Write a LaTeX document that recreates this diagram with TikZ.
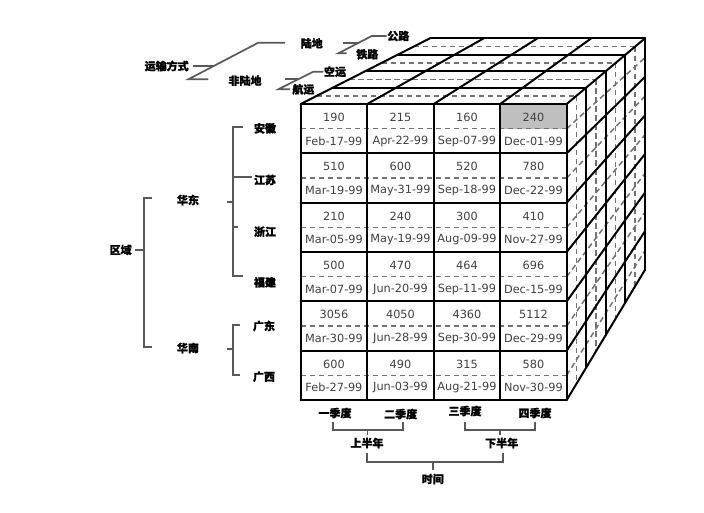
\documentclass[tikz,border=0pt]{standalone}
\usepackage{fontspec}
\setmainfont{DejaVu Sans}
\newfontfamily\cjk{Noto Sans CJK SC}[BoldFeatures={FakeBold=1.2}]
\newcommand{\cpt}[3]{({(300.7+66.5*(#1))*(1-(#3)/4)+(430+53.75*(#1))*(#3)/4},{(104+49.333*(#2))*(1-(#3)/4)+(38.3+38.583*(#2))*(#3)/4})}
\tikzset{
  cubeline/.style={line width=2pt, black, line cap=round},
  dashln/.style={line width=1.5pt, black!55, dash pattern=on 5.5pt off 3.5pt},
  brk/.style={line width=1.7pt, black!65},
  lbl/.style={font=\cjk\bfseries\fontsize{11}{13}\selectfont, inner sep=0pt},
  celltxt/.style={font=\fontsize{11.3}{13}\selectfont, text=black!75, inner sep=0pt},
}
\begin{document}
\begin{tikzpicture}[x=1pt,y=-1pt]
\useasboundingbox (0,0) rectangle (704,512);
% ---- cube ----
\fill[black!25] \cpt{3}{0}{0} rectangle \cpt{4}{0.5}{0};
\foreach \j in {0,...,5} \draw[dashln] \cpt{0}{\j+0.5}{0} -- \cpt{4}{\j+0.5}{0};
\foreach \k in {0,...,3} \draw[dashln] \cpt{0}{0}{\k+0.5} -- \cpt{4}{0}{\k+0.5};
\foreach \k in {0,...,3} \draw[dashln] \cpt{4}{0}{\k+0.5} -- \cpt{4}{6}{\k+0.5};
\foreach \j in {0,...,5} \draw[dashln] \cpt{4}{\j+0.5}{0} -- \cpt{4}{\j+0.5}{4};
\foreach \i in {0,...,4} \draw[cubeline] \cpt{\i}{0}{0} -- \cpt{\i}{6}{0};
\foreach \j in {0,...,6} \draw[cubeline] \cpt{0}{\j}{0} -- \cpt{4}{\j}{0};
\foreach \i in {0,...,4} \draw[cubeline] \cpt{\i}{0}{0} -- \cpt{\i}{0}{4};
\foreach \k in {1,...,4} \draw[cubeline] \cpt{0}{0}{\k} -- \cpt{4}{0}{\k};
\foreach \k in {1,...,4} \draw[cubeline] \cpt{4}{0}{\k} -- \cpt{4}{6}{\k};
\foreach \j in {1,...,6} \draw[cubeline] \cpt{4}{\j}{0} -- \cpt{4}{\j}{4};
% ---- cell texts ----
\foreach \v/\d [count=\n from 0] in {190/Feb-17-99,215/Apr-22-99,160/Sep-07-99,240/Dec-01-99,
  510/Mar-19-99,600/May-31-99,520/Sep-18-99,780/Dec-22-99,
  210/Mar-05-99,240/May-19-99,300/Aug-09-99,410/Nov-27-99,
  500/Mar-07-99,470/Jun-20-99,464/Sep-11-99,696/Dec-15-99,
  3056/Mar-30-99,4050/Jun-28-99,4360/Sep-30-99,5112/Dec-29-99,
  600/Feb-27-99,490/Jun-03-99,315/Aug-21-99,580/Nov-30-99}{
  \pgfmathtruncatemacro\ci{mod(\n,4)}
  \pgfmathtruncatemacro\rj{div(\n,4)}
  \node[celltxt] (v\n) at ({300.7+66.5*(\ci+0.5)},{104+49.333*\rj+13.5}) {\v};
  \node[celltxt] (d\n) at ({300.7+66.5*(\ci+0.5)},{104+49.333*\rj+37}) {\d};
}
% ---- transport tree ----
\node[lbl] (ys) at (166.7,66) {运输方式};
\node[lbl] (ld) at (311.7,43.3) {陆地};
\node[lbl] (fld) at (245,80.7) {非陆地};
\node[lbl] (gl) at (398.3,36) {公路};
\node[lbl] (tl) at (367.3,54.3) {铁路};
\node[lbl] (ky) at (335,71.7) {空运};
\node[lbl] (hy) at (303.3,89.3) {航运};
\draw[brk] (193.3,66) -- (213.7,66);
\draw[brk] (285,42.7) -- (258.3,42.7) -- (188.3,79.3) -- (208.3,79.3);
\draw[brk] (342.7,42.7) -- (358.8,42.7);
\draw[brk] (386.7,36) -- (371.7,36) -- (338.3,53.3) -- (346.7,53.3);
\draw[brk] (285,79.3) -- (298.3,79.3);
\draw[brk] (323.3,71.7) -- (313.3,71.7) -- (278.3,89.3) -- (290,89.3);
% ---- region tree ----
\node[lbl] (qy) at (120.7,250) {区域};
\node[lbl] (hd) at (188,200) {华东};
\node[lbl] (hn) at (188,348) {华南};
\node[lbl] (ah) at (265,128.3) {安徽};
\node[lbl] (js) at (265,180) {江苏};
\node[lbl] (zj) at (265,231.7) {浙江};
\node[lbl] (fj) at (265,282.3) {福建};
\node[lbl] (gd) at (264,326) {广东};
\node[lbl] (gx) at (264,376.7) {广西};
\draw[brk] (135,250) -- (144,250);
\draw[brk] (151.7,198.3) -- (144,198.3) -- (144,346.7) -- (151.7,346.7);
\draw[brk] (226.7,202.3) -- (233.3,202.3);
\draw[brk] (243.3,127.3) -- (233.3,127.3) -- (233.3,275.7) -- (243.3,275.7);
\draw[brk] (233.3,176.7) -- (251.7,176.7);
\draw[brk] (233.3,226.7) -- (238,226.7);
\draw[brk] (226.7,349.3) -- (233.3,349.3);
\draw[brk] (240,325) -- (233.3,325) -- (233.3,375) -- (240,375);
% ---- time tree ----
\node[lbl] (q1) at (335,413) {一季度};
\node[lbl] (q2) at (400.7,414) {二季度};
\node[lbl] (q3) at (465,411) {三季度};
\node[lbl] (q4) at (535,413) {四季度};
\node[lbl] (sb) at (367,443) {上半年};
\node[lbl] (xb) at (501.7,443) {下半年};
\node[lbl] (sj) at (432.7,479) {时间};
\draw[brk] (332.7,421.7) -- (332.7,430) -- (402.7,430) -- (402.7,421.7);
\draw[brk] (367.5,430) -- (367.5,435);
\draw[brk] (465,421.7) -- (465,430) -- (535,430) -- (535,421.7);
\draw[brk] (500,430) -- (500,435);
\draw[brk] (367,453) -- (367,461.7) -- (502.7,461.7) -- (502.7,453);
\draw[brk] (433,461.7) -- (433,470);
\end{tikzpicture}
\end{document}
